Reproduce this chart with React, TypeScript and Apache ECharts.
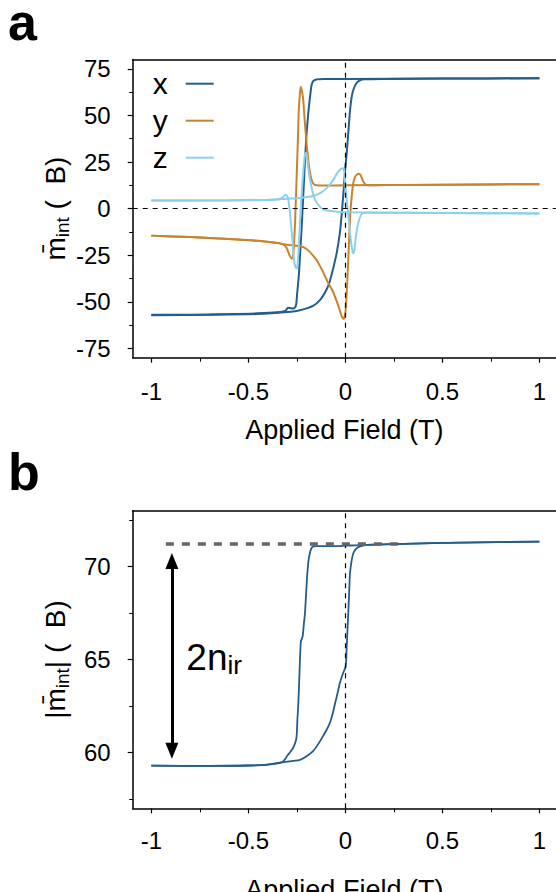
import React, { useEffect, useRef } from 'react';
import * as echarts from 'echarts';

const FONT = '"Liberation Sans", Arial, Helvetica, sans-serif';

// Tick labels
const xTicks = [-1, -0.5, 0, 0.5, 1];
const xMinorTicks = [-0.75, -0.25, 0.25, 0.75];
const yTicksA = [-75, -50, -25, 0, 25, 50, 75];
const yMinorTicksA = [-62.5, -37.5, -12.5, 12.5, 37.5, 62.5];
const yTicksB = [60, 65, 70];
const yMinorTicksB = [57.5, 62.5, 67.5, 72.5];
const legendNames = ['x', 'y', 'z'];

// Panel a, x component
const xDescField = [-1.0, -0.8, -0.6, -0.45, -0.35, -0.31, -0.295, -0.28, -0.268, -0.255, -0.248, -0.24, -0.232, -0.225, -0.216, -0.208, -0.2, -0.19, -0.182, -0.174, -0.165, -0.15, -0.1, 0, 0.5, 1.0];
const xDescVal = [-57.0, -56.9, -56.6, -56.2, -55.6, -54.9, -53.2, -53.5, -53.6, -52.2, -45, -36.1, -22, -9.4, 9, 26.1, 40, 52.5, 60, 66.3, 68.5, 69.3, 69.5, 69.6, 69.8, 69.9];
const xAscField = [-1.0, -0.7, -0.5, -0.4, -0.3, -0.234, -0.167, -0.13, -0.096, -0.08, -0.064, -0.045, -0.028, -0.018, -0.01, 0.0, 0.007, 0.016, 0.024, 0.032, 0.04, 0.055, 0.075, 0.1, 0.2, 0.5, 1.0];
const xAscVal = [-57.2, -57.0, -56.7, -56.3, -55.5, -54.5, -52.2, -49, -43.3, -39, -32.6, -24, -12.8, -2, 8.5, 22, 29.7, 42, 52.5, 59.5, 63.4, 67, 68.8, 69.4, 69.6, 69.8, 69.9];

// Panel a, y component
const yDescField = [-1.0, -0.8, -0.6, -0.45, -0.35, -0.32, -0.303, -0.286, -0.275, -0.268, -0.26, -0.255, -0.251, -0.245, -0.24, -0.234, -0.229, -0.222, -0.217, -0.21, -0.2, -0.19, -0.182, -0.174, -0.165, -0.15, -0.1, 0.0, 0.5, 1.0];
const yDescVal = [-14.5, -15.3, -16.3, -17.3, -18.5, -19.2, -21, -25.5, -26.8, -24, -9.4, 5, 17.2, 36, 52.8, 62, 65.4, 62, 58.2, 48, 35.1, 25, 19.1, 15.5, 13.4, 12.5, 12.4, 12.5, 12.8, 13.1];
const yAscField = [-1.0, -0.8, -0.6, -0.45, -0.35, -0.3, -0.234, -0.2, -0.165, -0.14, -0.114, -0.09, -0.062, -0.04, -0.028, -0.018, -0.009, 0.0, 0.007, 0.015, 0.021, 0.027, 0.034, 0.041, 0.05, 0.058, 0.068, 0.078, 0.092, 0.105, 0.118, 0.2, 0.5, 1.0];
const yAscVal = [-14.5, -15.3, -16.3, -17.3, -18.5, -19.4, -20.1, -21.7, -25.4, -29, -34.2, -39.5, -45, -51, -54.8, -58, -59.3, -56, -45, -27.2, -12, -0.5, 8, 13.8, 17, 18.1, 18.7, 18, 14.6, 12.9, 12.5, 12.6, 12.8, 13.1];

// Panel a, z component
const zDescField = [-1.0, -0.6, -0.4, -0.34, -0.32, -0.311, -0.302, -0.294, -0.282, -0.272, -0.265, -0.257, -0.25, -0.244, -0.239, -0.232, -0.225, -0.216, -0.208, -0.203, -0.197, -0.19, -0.182, -0.17, -0.157, -0.135, -0.114, -0.062, 0.0, 0.5, 1.0];
const zDescVal = [4.3, 4.4, 4.6, 5.0, 6.3, 7.4, 7, 4.8, -6, -18, -27.2, -31.5, -32.1, -27, -18.3, -4, 8.3, 21, 29.4, 29.9, 27, 21, 15.4, 9.5, 4.8, 1.5, -0.5, -1.4, -2.0, -2.4, -2.6];
const zAscField = [-1.0, -0.6, -0.4, -0.3, -0.234, -0.18, -0.148, -0.12, -0.096, -0.075, -0.062, -0.045, -0.036, -0.022, -0.012, -0.006, -0.002, 0.004, 0.01, 0.019, 0.025, 0.032, 0.038, 0.042, 0.046, 0.053, 0.06, 0.067, 0.076, 0.084, 0.1, 0.2, 0.5, 1.0];
const zAscVal = [4.3, 4.5, 4.8, 5.3, 5.7, 6.5, 7.4, 9, 11, 13.5, 15.4, 18.5, 19.8, 21.3, 21.7, 20, 15.4, 8, 1.5, -7.6, -14, -20, -23.5, -24, -22.5, -16, -11, -7.6, -4.5, -2.9, -2.2, -2.2, -2.4, -2.6];

// Panel b, |m|
const bDescField = [-1, -0.7, -0.5, -0.4, -0.328, -0.31, -0.298, -0.286, -0.268, -0.256, -0.251, -0.247, -0.243, -0.238, -0.234, -0.231, -0.229, -0.22, -0.214, -0.208, -0.202, -0.196, -0.19, -0.183, -0.175, -0.165, -0.15, -0.05, 0.0, 0.05, 0.11, 0.3, 0.6, 1.0];
const bDescVal = [59.29, 59.28, 59.3, 59.35, 59.47, 59.65, 59.85, 60.0, 60.27, 60.6, 60.9, 61.8, 62.5, 63.8, 65.0, 65.7, 65.98, 66.25, 66.9, 67.5, 68.6, 69.64, 70.3, 70.71, 70.98, 71.08, 71.1, 71.1, 71.12, 71.14, 71.16, 71.22, 71.28, 71.34];
const bAscField = [-1, -0.7, -0.5, -0.4, -0.328, -0.234, -0.2, -0.165, -0.14, -0.114, -0.095, -0.079, -0.065, -0.054, -0.04, -0.028, -0.011, 0.002, 0.007, 0.011, 0.015, 0.02, 0.024, 0.032, 0.041, 0.055, 0.067, 0.09, 0.11, 0.3, 0.6, 1.0];
const bAscVal = [59.29, 59.28, 59.3, 59.35, 59.47, 59.61, 59.8, 60.09, 60.45, 60.9, 61.25, 61.61, 62.1, 62.59, 63.2, 63.75, 64.29, 64.64, 65.71, 66.6, 67.5, 68.7, 69.64, 70.3, 70.71, 70.95, 71.04, 71.12, 71.16, 71.22, 71.28, 71.34];

// Annotations in panel b (data coordinates)
const refLineY = 71.25;
const refLineX = [-0.925, 0.3];
const arrowX = -0.894;
const arrowY = [70.3, 60.1];
const annotText = { x: -0.822, y: 65.09, main: '2n', sub: 'ir' };

const X_MIN = -1.096;
const X_MAX = 1.0856;
const C_X = '#255c8c';
const C_Y = '#c8832d';
const C_Z = '#8dcfec';

function pairs(f: number[], v: number[]) {
  return f.map((x, i) => [x, v[i]]);
}

const black = '#000';

function mainX(grid: number, margin: number, nameGap: number) {
  return {
    type: 'value', gridIndex: grid, min: X_MIN, max: X_MAX, position: 'bottom',
    axisLine: { show: true, onZero: false, lineStyle: { color: black, width: 1.5 } },
    axisTick: { show: true, inside: false, length: 5, customValues: xTicks, lineStyle: { color: black, width: 1.2 } },
    axisLabel: { show: true, customValues: xTicks, margin, fontSize: 24, color: black, fontFamily: FONT },
    splitLine: { show: false },
    name: 'Applied Field (T)', nameLocation: 'middle', nameGap, nameMoveOverlap: false,
    nameTextStyle: { fontSize: 27, color: black, fontFamily: FONT },
  };
}
function minorX(grid: number) {
  return {
    type: 'value', gridIndex: grid, min: X_MIN, max: X_MAX, position: 'bottom',
    axisLine: { show: false, onZero: false },
    axisTick: { show: true, inside: false, length: 4, customValues: xMinorTicks, lineStyle: { color: black, width: 1 } },
    axisLabel: { show: false }, splitLine: { show: false },
  };
}
function topX(grid: number) {
  return {
    type: 'value', gridIndex: grid, min: X_MIN, max: X_MAX, position: 'top',
    axisLine: { show: true, onZero: false, lineStyle: { color: black, width: 1.5 } },
    axisTick: { show: false }, axisLabel: { show: false }, splitLine: { show: false },
  };
}
function mainY(grid: number, min: number, max: number, ticks: number[], name: string, nameGap: number) {
  return {
    type: 'value', gridIndex: grid, min, max, position: 'left',
    axisLine: { show: true, onZero: false, lineStyle: { color: black, width: 1.5 } },
    axisTick: { show: true, inside: false, length: 5, customValues: ticks, lineStyle: { color: black, width: 1.2 } },
    axisLabel: { show: true, customValues: ticks, margin: 22, fontSize: 24, color: black, fontFamily: FONT },
    splitLine: { show: false },
    name, nameLocation: 'middle', nameRotate: 90, nameGap, nameMoveOverlap: false,
    nameTextStyle: {
      color: black, fontFamily: FONT,
      rich: {
        m: { fontSize: 28, lineHeight: 32, fontFamily: FONT, color: black },
        s: { fontSize: 19, lineHeight: 19, verticalAlign: 'bottom', fontFamily: FONT, color: black },
      },
    },
  };
}
function minorY(grid: number, min: number, max: number, ticks: number[]) {
  return {
    type: 'value', gridIndex: grid, min, max, position: 'left',
    axisLine: { show: false, onZero: false },
    axisTick: { show: true, inside: false, length: 3.5, customValues: ticks, lineStyle: { color: black, width: 1 } },
    axisLabel: { show: false }, splitLine: { show: false },
  };
}

const dashZero = { color: black, width: 1.2, type: [5, 5] };

function lineSeries(name: string, data: number[][], color: string, xi: number, yi: number, width: number, extra: any = {}) {
  return {
    type: 'line', name, data, xAxisIndex: xi, yAxisIndex: yi,
    showSymbol: false, symbol: 'none', smooth: 0.25, silent: true,
    lineStyle: { color, width }, itemStyle: { color },
    emphasis: { disabled: true },
    ...extra,
  };
}

const option: any = {
  animation: false,
  backgroundColor: '#fff',
  textStyle: { fontFamily: FONT },
  grid: [
    { left: 132.7, right: 0, top: 59.5, height: 298.2, containLabel: false, outerBoundsMode: 'none' },
    { left: 132.7, right: 0, top: 510.7, height: 297.6, containLabel: false, outerBoundsMode: 'none' },
  ],
  xAxis: [mainX(0, 22, 59), minorX(0), topX(0), mainX(1, 20, 68), minorX(1), topX(1)],
  yAxis: [
    mainY(0, -80, 80, yTicksA, '{m|m\u0304}{s|int}{m| (  B)}', 61),
    minorY(0, -80, 80, yMinorTicksA),
    mainY(1, 57, 73, yTicksB, '{m||m\u0304}{s|int}{m|| (  B)}', 61),
    minorY(1, 57, 73, yMinorTicksB),
  ],
  legend: {
    data: legendNames.map((n) => ({ name: n, icon: 'rect' })),
    orient: 'vertical', align: 'right', left: 152.7, top: 68.7, padding: 0,
    itemWidth: 28, itemHeight: 2, itemGap: 7, selectedMode: false,
    textStyle: { fontSize: 30, lineHeight: 24, padding: [0, 13, 0, 0], color: black, fontFamily: FONT },
  },
  graphic: [
    { type: 'text', x: 8, y: 22, style: { text: 'a', fontSize: 52, lineHeight: 40, fontWeight: 'bold', fontFamily: FONT, fill: black, align: 'left', verticalAlign: 'middle' } },
    { type: 'text', x: 8, y: 472, style: { text: 'b', fontSize: 52, lineHeight: 40, fontWeight: 'bold', fontFamily: FONT, fill: black, align: 'left', verticalAlign: 'middle' } },
  ],
  series: [
    lineSeries('x', pairs(xDescField, xDescVal), C_X, 0, 0, 2, {
      markLine: {
        silent: true, symbol: ['none', 'none'], label: { show: false }, emphasis: { disabled: true },
        lineStyle: dashZero, data: [{ yAxis: 0 }, { xAxis: 0 }],
      },
    }),
    lineSeries('x', pairs(xAscField, xAscVal), C_X, 0, 0, 2),
    lineSeries('y', pairs(yDescField, yDescVal), C_Y, 0, 0, 2),
    lineSeries('y', pairs(yAscField, yAscVal), C_Y, 0, 0, 2),
    lineSeries('z', pairs(zDescField, zDescVal), C_Z, 0, 0, 2),
    lineSeries('z', pairs(zAscField, zAscVal), C_Z, 0, 0, 2),
    lineSeries('|m|', pairs(bDescField, bDescVal), C_X, 3, 2, 1.8, {
      markLine: {
        silent: true, symbol: ['none', 'none'], label: { show: false }, emphasis: { disabled: true },
        lineStyle: dashZero,
        data: [
          { xAxis: 0 },
          [
            { coord: [refLineX[0], refLineY], lineStyle: { color: '#666', width: 3.5, type: [8, 8] } },
            { coord: [refLineX[1], refLineY], lineStyle: { color: '#666', width: 3.5, type: [8, 8] } },
          ],
          [
            { coord: [arrowX, arrowY[0]], symbol: 'triangle', symbolSize: [13, 16], lineStyle: { color: black, width: 3, type: 'solid' }, itemStyle: { color: black } },
            { coord: [arrowX, arrowY[1]], symbol: 'triangle', symbolSize: [13, 16], lineStyle: { color: black, width: 3, type: 'solid' }, itemStyle: { color: black } },
          ],
        ],
      },
      markPoint: {
        silent: true, symbol: 'circle', symbolSize: 1, itemStyle: { color: 'rgba(0,0,0,0)' },
        data: [{
          coord: [annotText.x, annotText.y],
          label: {
            show: true, position: 'right', distance: 0,
            formatter: '{a|' + annotText.main + '}{b|' + annotText.sub + '}',
            rich: {
              a: { fontSize: 37, lineHeight: 40, fontFamily: FONT, color: black },
              b: { fontSize: 26, lineHeight: 30, verticalAlign: 'bottom', fontFamily: FONT, color: black },
            },
          },
        }],
      },
    }),
    lineSeries('|m|', pairs(bAscField, bAscVal), C_X, 3, 2, 1.8),
  ],
};

export default function App() {
  const ref = useRef<HTMLDivElement>(null);
  useEffect(() => {
    const chart = echarts.init(ref.current!, null, { renderer: 'svg' });
    chart.setOption(option);
    return () => chart.dispose();
  }, []);
  return (
    <div
      ref={ref}
      style={{ position: 'fixed', left: 0, top: 0, width: 556, height: 892, background: '#fff' }}
    />
  );
}
